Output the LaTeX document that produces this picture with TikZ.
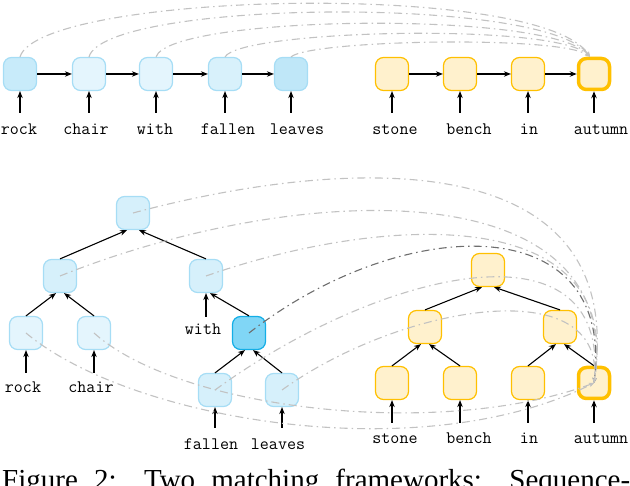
\documentclass[tikz,border=0pt]{standalone}
\usepackage{fontspec}
\newfontfamily\capfont{Liberation Serif}
\usetikzlibrary{arrows.meta}
\definecolor{bbord}{HTML}{A6DDF5}
\definecolor{bfa}{HTML}{C8EBFA}
\definecolor{bfb}{HTML}{E4F5FD}
\definecolor{bfc}{HTML}{D8F1FB}
\definecolor{bfd}{HTML}{BFE7F8}
\definecolor{bfe}{HTML}{D6F0FB}
\definecolor{darkfill}{HTML}{80D6F6}
\definecolor{darkbord}{HTML}{14AEE6}
\definecolor{yfill}{HTML}{FFF1CD}
\definecolor{ybord}{HTML}{FFC000}
\definecolor{curgray}{HTML}{C2C2C2}
\definecolor{curdark}{HTML}{6E6E6E}
\begin{document}
\begin{tikzpicture}[x=1pt,y=-1pt,
  box/.style={rounded corners=8pt, minimum size=33pt, inner sep=0pt, line width=1.2pt},
  bn/.style={box, draw=bbord, fill=#1},
  dn/.style={box, draw=darkbord, fill=darkfill},
  yn/.style={box, draw=ybord, fill=yfill},
  ynthick/.style={box, draw=ybord, fill=yfill, line width=3.5pt, minimum size=31pt},
  lbl/.style={font=\ttfamily\fontsize{17.5}{20}\selectfont, inner sep=0pt, text height=12pt, text depth=4pt, anchor=base},
  arr/.style={-{Stealth[length=7pt,width=5.5pt]}, line width=1.1pt, black},
  inarr/.style={arr, shorten <=10pt},
  cur/.style={draw=curgray, line width=1.1pt, dash pattern=on 8pt off 4pt on 1.5pt off 4pt, -{Stealth[length=5pt,width=4pt]}},
  curd/.style={cur, draw=curdark}]
\useasboundingbox (0,0) rectangle (630,486);

% ---------- top row (sequence) ----------
\node[bn=bfa] (s1) at (20,74) {};
\node[bn=bfb] (s2) at (89,74) {};
\node[bn=bfb] (s3) at (156,74) {};
\node[bn=bfc] (s4) at (225,74) {};
\node[bn=bfd] (s5) at (291,74) {};
\node[yn] (o1) at (392,74) {};
\node[yn] (o2) at (460,74) {};
\node[yn] (o3) at (528,74) {};
\node[ynthick] (o4) at (594,74) {};

\node[lbl] (ls1) at (19,135) {rock};
\node[lbl] (ls2) at (86,135) {chair};
\node[lbl] (ls3) at (155,135) {with};
\node[lbl] (ls4) at (228,135) {fallen};
\node[lbl] (ls5) at (297,135) {leaves};
\node[lbl] (lo1) at (395,135) {stone};
\node[lbl] (lo2) at (469,135) {bench};
\node[lbl] (lo3) at (529,135) {in};
\node[lbl] (lo4) at (601,135) {autumn};

\foreach \a/\b in {s1/s2,s2/s3,s3/s4,s4/s5,o1/o2,o2/o3,o3/o4}
  \draw[arr] (\a.east) -- (\b.west);
\foreach \n/\l in {s1/ls1,s2/ls2,s3/ls3,s4/ls4,s5/ls5,o1/lo1,o2/lo2,o3/lo3,o4/lo4}
  \draw[inarr] (\n |- \l.north) -- (\n.south);

\draw[cur] (s1.north) .. controls (40,-8) and (540,-20) .. ([xshift=-4pt]o4.north);
\draw[cur] (s2.north) .. controls (105,0) and (545,-5) .. ([xshift=-4pt]o4.north);
\draw[cur] (s3.north) .. controls (170,15) and (550,10) .. ([xshift=-4pt]o4.north);
\draw[cur] (s4.north) .. controls (240,30) and (555,22) .. ([xshift=-4pt]o4.north);
\draw[cur] (s5.north) .. controls (310,40) and (560,35) .. ([xshift=-4pt]o4.north);

% ---------- bottom (tree) ----------
\node[bn=bfe] (b1) at (133,213) {};
\node[bn=bfe] (b2) at (60,276) {};
\node[bn=bfe] (b3) at (206,276) {};
\node[bn=bfb] (b4) at (26,333) {};
\node[bn=bfb] (b5) at (94,333) {};
\node[dn] (b6) at (249,333) {};
\node[bn=bfe] (b7) at (215,390) {};
\node[bn=bfe] (b8) at (282,390) {};

\node[yn] (y1) at (488,270) {};
\node[yn] (y2) at (425,327) {};
\node[yn] (y3) at (560,327) {};
\node[yn] (y4) at (392,383) {};
\node[yn] (y5) at (460,383) {};
\node[yn] (y6) at (528,383) {};
\node[ynthick] (y7) at (594,383) {};

\node[lbl] (lb4) at (23,393) {rock};
\node[lbl] (lb5) at (91,393) {chair};
\node[lbl] (lbw) at (203,335) {with};
\node[lbl] (lb7) at (211,450) {fallen};
\node[lbl] (lb8) at (278,450) {leaves};
\node[lbl] (ly4) at (395,444) {stone};
\node[lbl] (ly5) at (469,444) {bench};
\node[lbl] (ly6) at (529,444) {in};
\node[lbl] (ly7) at (601,444) {autumn};

% tree edges
\draw[arr] (b2.north) -- ([xshift=-6pt]b1.south);
\draw[arr] (b3.north) -- ([xshift=6pt]b1.south);
\draw[arr] (b4.north) -- ([xshift=-4pt]b2.south);
\draw[arr] (b5.north) -- ([xshift=4pt]b2.south);
\draw[arr] (b6.north) -- ([xshift=4pt]b3.south);
\draw[arr] (b7.north) -- ([xshift=-4pt]b6.south);
\draw[arr] (b8.north) -- ([xshift=4pt]b6.south);
\draw[arr] (y2.north) -- ([xshift=-6pt]y1.south);
\draw[arr] (y3.north) -- ([xshift=6pt]y1.south);
\draw[arr] (y4.north) -- ([xshift=-4pt]y2.south);
\draw[arr] (y5.north) -- ([xshift=4pt]y2.south);
\draw[arr] (y6.north) -- ([xshift=-4pt]y3.south);
\draw[arr] (y7.north) -- ([xshift=4pt]y3.south);

% word inputs
\draw[arr, shorten <=8pt] (b4 |- lb4.north) -- (b4.south);
\draw[arr, shorten <=8pt] (b5 |- lb5.north) -- (b5.south);
\draw[arr, shorten <=6pt] (b3 |- lbw.north) -- (b3.south);
\draw[arr, shorten <=10pt] (b7 |- lb7.north) -- (b7.south);
\draw[arr, shorten <=10pt] (b8 |- lb8.north) -- (b8.south);
\draw[arr, shorten <=9pt] (y4 |- ly4.north) -- (y4.south);
\draw[arr, shorten <=9pt] (y5 |- ly5.north) -- (y5.south);
\draw[arr, shorten <=9pt] (y6 |- ly6.north) -- (y6.south);
\draw[arr, shorten <=9pt] (y7 |- ly7.north) -- (y7.south);

% matching curves
\draw[cur] (b1.center) .. controls (330,160) and (630,135) .. (y7.center);
\draw[cur] (b2.center) .. controls (300,180) and (625,170) .. (y7.center);
\draw[cur] (b3.center) .. controls (380,215) and (625,200) .. (y7.center);
\draw[curd] (b6.center) .. controls (400,215) and (615,205) .. (y7.center);
\draw[cur] (b7.center) .. controls (380,270) and (610,215) .. (y7.center);
\draw[cur] (b8.center) .. controls (400,305) and (605,270) .. (y7.center);
\draw[cur] (b4.center) .. controls (130,420) and (420,470) .. (y7.center);
\draw[cur] (b5.center) .. controls (180,410) and (440,440) .. (y7.center);

% caption (cut by the frame)
\node[anchor=base west, inner sep=0pt] (cap) at (2,490)
  {\capfont\fontsize{29}{32}\selectfont\makebox[628pt][s]{Figure 2: Two matching frameworks: Sequence-}};
\end{tikzpicture}
\end{document}
